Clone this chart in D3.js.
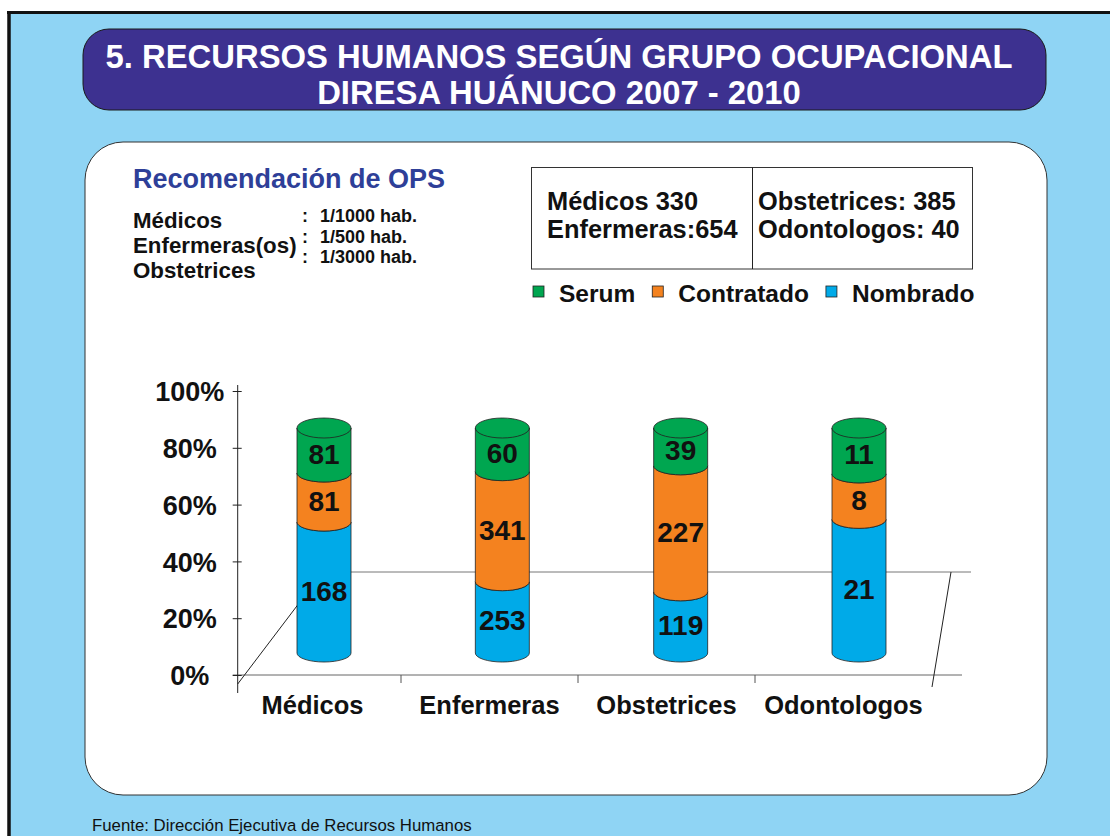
<!DOCTYPE html>
<html>
<head>
<meta charset="utf-8">
<script src="https://cdn.jsdelivr.net/npm/d3@7"></script>
<style>
  html, body { margin: 0; padding: 0; background: #fff; }
  svg { display: block; font-family: "Liberation Sans", Arial, sans-serif; }
</style>
</head>
<body>
<div id="chart"></div>
<script>
// categories and counts (labels on the cylinders)
const categorias = ["Médicos", "Enfermeras", "Obstetrices", "Odontologos"]
const serum = [81, 60, 39, 11]
const contratado = [81, 341, 227, 8]
const nombrado = [168, 253, 119, 21]

// share of each cylinder as drawn in the picture (%)
const pctNombrado = [58.2, 31.7, 27.2, 59.4]
const pctContratado = [21.8, 48.9, 56.0, 20.2]
const pctSerum = [20.0, 19.4, 16.8, 20.4]

const yTicks = [0, 0.2, 0.4, 0.6, 0.8, 1]

const opsGrupos = ["Médicos", "Enfermeras(os)", "Obstetrices"]
const opsRatios = ["1/1000 hab.", "1/500 hab.", "1/3000 hab."]
const infoIzq = ["Médicos 330", "Enfermeras:654"]
const infoDer = ["Obstetrices: 385", "Odontologos: 40"]

const seriesKeys = ["Nombrado", "Contratado", "Serum"]
const leyenda = ["Serum", "Contratado", "Nombrado"]
const colores = { Serum: "#00a650", Contratado: "#f4821f", Nombrado: "#00aae8" }

const width = 1110, height = 836

const svg = d3.select("#chart").append("svg")
    .attr("width", width)
    .attr("height", height)

// page background + frame
svg.append("rect").attr("width", width).attr("height", height).attr("fill", "#fff")
svg.append("rect").attr("x", 9).attr("y", 12).attr("width", width - 9).attr("height", height - 12)
    .attr("fill", "#8fd4f4")
svg.append("line").attr("x1", 7).attr("x2", width).attr("y1", 12.5).attr("y2", 12.5)
    .attr("stroke", "#111").attr("stroke-width", 3)
svg.append("line").attr("x1", 9).attr("x2", 9).attr("y1", 11).attr("y2", height)
    .attr("stroke", "#111").attr("stroke-width", 3.5)

// title box
svg.append("rect").attr("x", 83).attr("y", 29).attr("width", 963).attr("height", 81)
    .attr("rx", 26).attr("fill", "#3d3190").attr("stroke", "#1a1a1a")
svg.append("text").attr("x", 559).attr("y", 68)
    .attr("text-anchor", "middle").attr("fill", "#fff")
    .attr("font-size", 32.8).attr("font-weight", "bold")
    .text("5. RECURSOS HUMANOS SEGÚN GRUPO OCUPACIONAL")
svg.append("text").attr("x", 559).attr("y", 104)
    .attr("text-anchor", "middle").attr("fill", "#fff")
    .attr("font-size", 32.8).attr("font-weight", "bold")
    .text("DIRESA HUÁNUCO 2007 - 2010")

// white panel
svg.append("rect").attr("x", 85).attr("y", 142).attr("width", 962).attr("height", 653)
    .attr("rx", 38).attr("fill", "#fff").attr("stroke", "#333")

// OPS recommendation
svg.append("text").attr("x", 133).attr("y", 188)
    .attr("font-size", 27).attr("font-weight", "bold").attr("fill", "#2e3f98")
    .text("Recomendación de OPS")
opsGrupos.forEach((g, i) => {
    svg.append("text").attr("x", 133).attr("y", 228 + i * 25)
        .attr("font-size", 22.3).attr("font-weight", "bold").attr("fill", "#111")
        .text(g)
})
opsRatios.forEach((r, i) => {
    svg.append("text").attr("x", 302).attr("y", 222 + i * 20.5)
        .attr("font-size", 18).attr("font-weight", "bold").attr("fill", "#111")
        .text(":")
    svg.append("text").attr("x", 320).attr("y", 222 + i * 20.5)
        .attr("font-size", 18).attr("font-weight", "bold").attr("fill", "#111")
        .text(r)
})

// totals box
svg.append("rect").attr("x", 531.5).attr("y", 167.5).attr("width", 441).attr("height", 101.5)
    .attr("fill", "#fff").attr("stroke", "#333")
svg.append("line").attr("x1", 752.5).attr("x2", 752.5).attr("y1", 167.5).attr("y2", 269)
    .attr("stroke", "#222")
infoIzq.forEach((t, i) => {
    svg.append("text").attr("x", 547).attr("y", 210 + i * 28)
        .attr("font-size", 25.4).attr("font-weight", "bold").attr("fill", "#111").text(t)
})
infoDer.forEach((t, i) => {
    svg.append("text").attr("x", 758).attr("y", 210 + i * 28)
        .attr("font-size", 25.4).attr("font-weight", "bold").attr("fill", "#111").text(t)
})

// legend
let lx = 533
leyenda.forEach(k => {
    svg.append("rect").attr("x", lx).attr("y", 286).attr("width", 11).attr("height", 11)
        .attr("fill", colores[k]).attr("stroke", "#222").attr("stroke-width", 0.8)
    let t = svg.append("text").attr("x", lx + 26).attr("y", 302)
        .attr("font-size", 24.5).attr("font-weight", "bold").attr("fill", "#111").text(k)
    lx = lx + 26 + t.node().getComputedTextLength() + 17
})

/**------------------------------------------------------------------------
 *                           scales and axes
 *------------------------------------------------------------------------**/
const yScale = d3.scaleLinear().domain([0, 1]).range([675, 391])
const xScale = d3.scaleBand().domain(categorias).range([224, 932])
const xCyl = d3.scalePoint().domain(categorias).range([324, 859])
const yCyl = d3.scaleLinear().domain([0, 100]).range([653, 428])
const axisX = 237.7
const y0 = yScale(0)

// floor of the 3d plot
const floor = svg.append("g").attr("fill", "none")
floor.append("line").attr("x1", axisX - 5).attr("x2", xScale.range()[1] + 30)
    .attr("y1", y0).attr("y2", y0).attr("stroke", "#666")
floor.append("line").attr("x1", axisX + 85).attr("x2", xScale.range()[1] + 39)
    .attr("y1", y0 - 103).attr("y2", y0 - 103).attr("stroke", "#777")
floor.append("line").attr("x1", axisX).attr("y1", y0 + 9)
    .attr("x2", axisX + 85).attr("y2", y0 - 103).attr("stroke", "#222")
floor.append("line").attr("x1", xScale.range()[1]).attr("y1", y0 + 12)
    .attr("x2", xScale.range()[1] + 19).attr("y2", y0 - 103).attr("stroke", "#222")
categorias.slice(1).forEach(c => {
    floor.append("line").attr("x1", xScale(c)).attr("x2", xScale(c))
        .attr("y1", y0).attr("y2", y0 + 8).attr("stroke", "#555")
})

// y axis
const yAxis = svg.append("g").attr("transform", "translate(" + axisX + ",0)")
    .call(d3.axisLeft(yScale).tickValues(yTicks).tickFormat(d3.format(".0%")).tickSize(4).tickSizeOuter(0))
yAxis.select(".domain").remove()
yAxis.append("line").attr("x1", 0).attr("x2", 0)
    .attr("y1", yScale(1) - 6).attr("y2", y0 + 18).attr("stroke", "#222")
yAxis.selectAll(".tick line").attr("x1", -5).attr("x2", 4).attr("stroke", "#222")
yAxis.selectAll(".tick text")
    .attr("x", -48).attr("dy", "0.36em")
    .attr("text-anchor", "middle")
    .attr("font-family", "Liberation Sans, Arial, sans-serif")
    .attr("font-size", 27).attr("font-weight", "bold").attr("fill", "#111")

// category labels
svg.append("g").selectAll("text").data(categorias).join("text")
    .attr("x", d => xScale(d) + xScale.bandwidth() / 2)
    .attr("y", 714)
    .attr("text-anchor", "middle")
    .attr("font-size", 25.5).attr("font-weight", "bold").attr("fill", "#111")
    .text(d => d)

/**------------------------------------------------------------------------
 *                           cylinders
 *------------------------------------------------------------------------**/
const rows = categorias.map((c, i) => ({
    cat: c,
    Nombrado: pctNombrado[i], Contratado: pctContratado[i], Serum: pctSerum[i],
    etiquetas: { Nombrado: nombrado[i], Contratado: contratado[i], Serum: serum[i] }
}))
const stacked = d3.stack().keys(seriesKeys)(rows)

const rx = 27, ry = 9

function segmentPath(cx, yb, yt) {
    let l = cx - rx, r = cx + rx
    return "M" + l + "," + yt +
        " A" + rx + "," + ry + " 0 0 0 " + r + "," + yt +
        " L" + r + "," + yb +
        " A" + rx + "," + ry + " 0 0 1 " + l + "," + yb + " Z"
}

const cyl = svg.append("g")
stacked.forEach(serie => {
    cyl.append("g").selectAll("path").data(serie).join("path")
        .attr("d", d => segmentPath(xCyl(d.data.cat), yCyl(d[0]), yCyl(d[1])))
        .attr("fill", colores[serie.key])
        .attr("stroke", "#222").attr("stroke-width", 0.8)
})
// top caps
const topSerie = stacked[stacked.length - 1]
cyl.append("g").selectAll("ellipse").data(topSerie).join("ellipse")
    .attr("cx", d => xCyl(d.data.cat)).attr("cy", d => yCyl(d[1]))
    .attr("rx", rx).attr("ry", ry + 1)
    .attr("fill", colores[topSerie.key]).attr("stroke", "#222").attr("stroke-width", 0.8)

// value labels
stacked.forEach(serie => {
    cyl.append("g").selectAll("text").data(serie).join("text")
        .attr("x", d => xCyl(d.data.cat))
        .attr("y", d => (yCyl(d[0]) + yCyl(d[1])) / 2 + 3)
        .attr("dy", "0.36em")
        .attr("text-anchor", "middle")
        .attr("font-size", 28).attr("font-weight", "bold").attr("fill", "#111")
        .text(d => d.data.etiquetas[serie.key])
})

// source
svg.append("text").attr("x", 92).attr("y", 831)
    .attr("font-size", 16.8).attr("fill", "#111")
    .text("Fuente: Dirección Ejecutiva de Recursos Humanos")
</script>
</body>
</html>
